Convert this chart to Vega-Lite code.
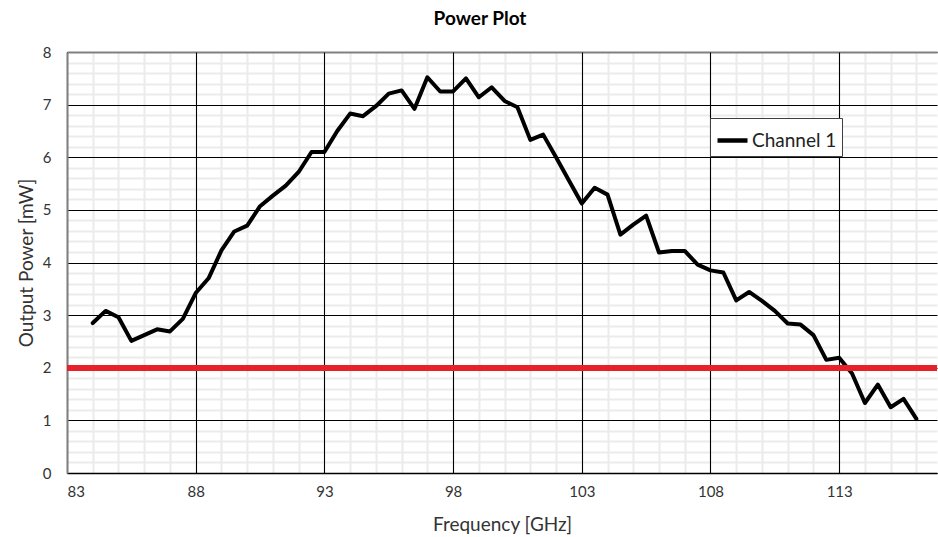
{
  "$schema": "https://vega.github.io/schema/vega-lite/v6.json",
  "width": 870,
  "height": 421,
  "autosize": {"type": "none"},
  "padding": {"left": 67, "top": 52, "right": 1, "bottom": 64},
  "background": "white",
  "config": {
    "view": {"stroke": null},
    "font": "Lato",
    "axis": {"labelFont": "Lato", "titleFont": "Lato"}
  },
  "title": {
    "text": "Power Plot",
    "font": "Lato",
    "fontSize": 19,
    "fontWeight": "bold",
    "color": "#000000",
    "frame": "group",
    "anchor": "middle",
    "dx": -22,
    "offset": 16
  },
  "data": {
    "values": [
      {"f": 84.0, "p": 2.85, "series": "Channel 1"},
      {"f": 84.5, "p": 3.08, "series": "Channel 1"},
      {"f": 85.0, "p": 2.96, "series": "Channel 1"},
      {"f": 85.5, "p": 2.51, "series": "Channel 1"},
      {"f": 86.0, "p": 2.62, "series": "Channel 1"},
      {"f": 86.5, "p": 2.73, "series": "Channel 1"},
      {"f": 87.0, "p": 2.69, "series": "Channel 1"},
      {"f": 87.5, "p": 2.93, "series": "Channel 1"},
      {"f": 88.0, "p": 3.42, "series": "Channel 1"},
      {"f": 88.5, "p": 3.70, "series": "Channel 1"},
      {"f": 89.0, "p": 4.23, "series": "Channel 1"},
      {"f": 89.5, "p": 4.59, "series": "Channel 1"},
      {"f": 90.0, "p": 4.70, "series": "Channel 1"},
      {"f": 90.5, "p": 5.07, "series": "Channel 1"},
      {"f": 91.0, "p": 5.27, "series": "Channel 1"},
      {"f": 91.5, "p": 5.46, "series": "Channel 1"},
      {"f": 92.0, "p": 5.72, "series": "Channel 1"},
      {"f": 92.5, "p": 6.10, "series": "Channel 1"},
      {"f": 93.0, "p": 6.10, "series": "Channel 1"},
      {"f": 93.5, "p": 6.50, "series": "Channel 1"},
      {"f": 94.0, "p": 6.83, "series": "Channel 1"},
      {"f": 94.5, "p": 6.78, "series": "Channel 1"},
      {"f": 95.0, "p": 6.97, "series": "Channel 1"},
      {"f": 95.5, "p": 7.21, "series": "Channel 1"},
      {"f": 96.0, "p": 7.27, "series": "Channel 1"},
      {"f": 96.5, "p": 6.92, "series": "Channel 1"},
      {"f": 97.0, "p": 7.52, "series": "Channel 1"},
      {"f": 97.5, "p": 7.25, "series": "Channel 1"},
      {"f": 98.0, "p": 7.25, "series": "Channel 1"},
      {"f": 98.5, "p": 7.50, "series": "Channel 1"},
      {"f": 99.0, "p": 7.14, "series": "Channel 1"},
      {"f": 99.5, "p": 7.33, "series": "Channel 1"},
      {"f": 100.0, "p": 7.07, "series": "Channel 1"},
      {"f": 100.5, "p": 6.95, "series": "Channel 1"},
      {"f": 101.0, "p": 6.33, "series": "Channel 1"},
      {"f": 101.5, "p": 6.43, "series": "Channel 1"},
      {"f": 102.0, "p": 6.00, "series": "Channel 1"},
      {"f": 102.5, "p": 5.56, "series": "Channel 1"},
      {"f": 103.0, "p": 5.12, "series": "Channel 1"},
      {"f": 103.5, "p": 5.42, "series": "Channel 1"},
      {"f": 104.0, "p": 5.29, "series": "Channel 1"},
      {"f": 104.5, "p": 4.53, "series": "Channel 1"},
      {"f": 105.0, "p": 4.72, "series": "Channel 1"},
      {"f": 105.5, "p": 4.89, "series": "Channel 1"},
      {"f": 106.0, "p": 4.19, "series": "Channel 1"},
      {"f": 106.5, "p": 4.22, "series": "Channel 1"},
      {"f": 107.0, "p": 4.22, "series": "Channel 1"},
      {"f": 107.5, "p": 3.96, "series": "Channel 1"},
      {"f": 108.0, "p": 3.85, "series": "Channel 1"},
      {"f": 108.5, "p": 3.81, "series": "Channel 1"},
      {"f": 109.0, "p": 3.28, "series": "Channel 1"},
      {"f": 109.5, "p": 3.44, "series": "Channel 1"},
      {"f": 110.0, "p": 3.27, "series": "Channel 1"},
      {"f": 110.5, "p": 3.08, "series": "Channel 1"},
      {"f": 111.0, "p": 2.84, "series": "Channel 1"},
      {"f": 111.5, "p": 2.82, "series": "Channel 1"},
      {"f": 112.0, "p": 2.62, "series": "Channel 1"},
      {"f": 112.5, "p": 2.15, "series": "Channel 1"},
      {"f": 113.0, "p": 2.19, "series": "Channel 1"},
      {"f": 113.5, "p": 1.89, "series": "Channel 1"},
      {"f": 114.0, "p": 1.33, "series": "Channel 1"},
      {"f": 114.5, "p": 1.68, "series": "Channel 1"},
      {"f": 115.0, "p": 1.25, "series": "Channel 1"},
      {"f": 115.5, "p": 1.41, "series": "Channel 1"},
      {"f": 116.0, "p": 1.03, "series": "Channel 1"}
    ]
  },
  "layer": [
    {
      "mark": {"type": "line", "opacity": 0},
      "encoding": {
        "x": {
          "field": "f", "type": "quantitative",
          "scale": {"domain": [83, 116.8], "nice": false, "zero": false},
          "axis": {
            "orient": "top", "values": [84,85,86,87,89,90,91,92,94,95,96,97,99,100,101,102,104,105,106,107,109,110,111,112,114,115,116],
            "labels": false, "ticks": false, "title": null,
            "domain": true, "domainColor": "#808080", "domainWidth": 2,
            "grid": true, "gridColor": "#ebebeb", "gridWidth": 2
          }
        },
        "y": {
          "field": "p", "type": "quantitative",
          "scale": {"domain": [0, 8], "nice": false},
          "axis": {
            "orient": "right",
            "values": [0.2,0.4,0.6,0.8,1.2,1.4,1.6,1.8,2.2,2.4,2.6,2.8,3.2,3.4,3.6,3.8,4.2,4.4,4.6,4.8,5.2,5.4,5.6,5.8,6.2,6.4,6.6,6.8,7.2,7.4,7.6,7.8],
            "labels": false, "ticks": false, "title": null, "domain": false,
            "grid": true, "gridColor": "#ebebeb", "gridWidth": 2
          }
        }
      }
    },
    {
      "mark": {"type": "line", "strokeWidth": 4, "strokeJoin": "round", "strokeCap": "round"},
      "encoding": {
        "x": {
          "field": "f", "type": "quantitative",
          "scale": {"domain": [83, 116.8], "nice": false, "zero": false},
          "axis": {
            "orient": "bottom", "values": [83, 88, 93, 98, 103, 108, 113],
            "title": "Frequency [GHz]", "titleFontSize": 19, "titleFontWeight": "normal", "titleColor": "#333333", "titlePadding": 16,
            "labelFontSize": 15, "labelColor": "#333333", "labelPadding": 432,
            "ticks": true, "tickSize": -421, "tickColor": "#000000", "tickWidth": 1.1,
            "domain": true, "domainColor": "#000000", "domainWidth": 1.5,
            "grid": false
          }
        },
        "y": {
          "field": "p", "type": "quantitative",
          "scale": {"domain": [0, 8], "nice": false},
          "axis": {
            "orient": "left", "values": [0,1,2,3,4,5,6,7,8],
            "title": "Output Power [mW]", "titleFontSize": 19, "titleFontWeight": "normal", "titleColor": "#333333", "titlePadding": 6,
            "labelFontSize": 15, "labelColor": "#333333", "labelPadding": 16,
            "ticks": false, "domain": true, "domainColor": "#808080", "domainWidth": 2,
            "grid": true, "gridColor": "#000000", "gridWidth": 1.1
          }
        },
        "color": {
          "field": "series", "type": "nominal",
          "scale": {"range": ["#000000"]},
          "legend": {
            "title": null, "orient": "none", "legendX": 643, "legendY": 66,
            "symbolType": "stroke", "symbolSize": 900, "symbolStrokeWidth": 4.5,
            "labelFontSize": 19, "labelColor": "#222222", "labelFont": "Lato", "labelOffset": 2,
            "strokeColor": "#404040", "fillColor": "white", "padding": 5
          }
        }
      }
    },
    {
      "mark": {"type": "rule", "color": "#e8202a", "strokeWidth": 5},
      "encoding": {"y": {"datum": 2, "axis": null}}
    }
  ],
  "resolve": {"axis": {"x": "independent", "y": "independent"}}
}
